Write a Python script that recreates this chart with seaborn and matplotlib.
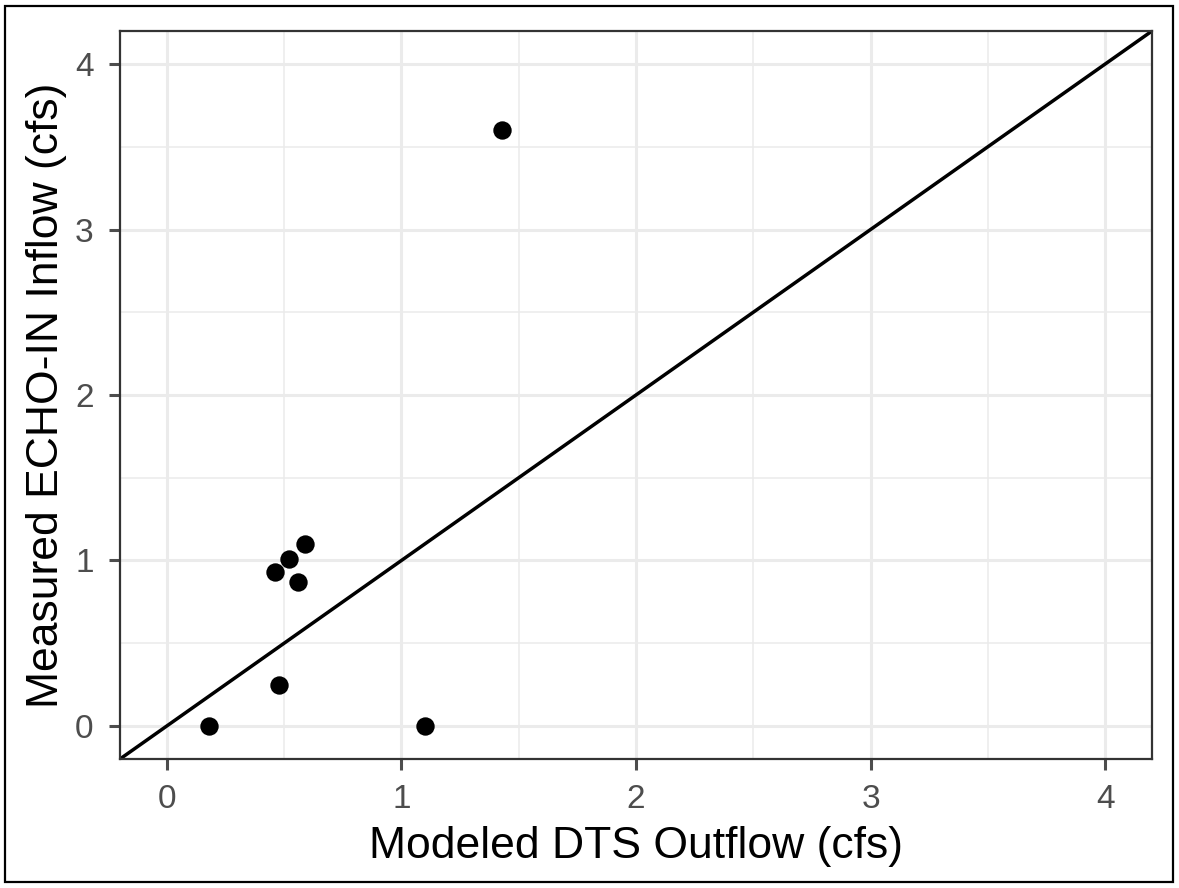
import matplotlib
matplotlib.use("Agg")
import matplotlib.pyplot as plt
import seaborn as sns
import pandas as pd
import numpy as np
from matplotlib.patches import Rectangle

modeled = [0.18, 1.10, 0.48, 0.46, 0.52, 0.56, 0.59, 1.43]
measured = [0.00, 0.00, 0.25, 0.93, 1.01, 0.87, 1.10, 3.60]
ticks = [0, 1, 2, 3, 4]

df = pd.DataFrame({"modeled": modeled, "measured": measured})

sns.set_theme(style="white")
plt.rcParams['font.family'] = ['Liberation Sans', 'DejaVu Sans']

fig = plt.figure(figsize=(11.79, 8.88), dpi=100)
ax = fig.add_axes([120/1179, 1 - 759/888, (1152-120)/1179, (759-31)/888])

lim = (-0.2, 4.2)
ax.plot(lim, lim, color="black", linewidth=2.5, zorder=2)
sns.scatterplot(data=df, x="modeled", y="measured", ax=ax, color="black",
                s=175, edgecolor="black", linewidth=0, zorder=3)

ax.set_xticks(ticks)
ax.set_yticks(ticks)
ax.set_xticks(np.arange(0.5, 4.0, 1.0), minor=True)
ax.set_yticks(np.arange(0.5, 4.0, 1.0), minor=True)
ax.set_xlim(lim)
ax.set_ylim(lim)
ax.grid(True, which="major", color="#EBEBEB", linewidth=2.2)
ax.grid(True, which="minor", color="#EBEBEB", linewidth=1.1)
ax.set_axisbelow(True)

ax.set_xlabel("Modeled DTS Outflow (cfs)", fontsize=32, color="black", labelpad=8)
ax.set_ylabel("Measured ECHO-IN Inflow (cfs)", fontsize=32, color="black", labelpad=6)
ax.tick_params(axis="both", which="major", labelsize=24, colors="#4D4D4D",
               length=8, width=2.2, direction="out",
               bottom=True, left=True)
ax.tick_params(axis="x", which="major", pad=10)
ax.tick_params(axis="y", which="major", pad=11)
ax.tick_params(axis="both", which="minor", length=0)
for sp in ax.spines.values():
    sp.set_color("#333333")
    sp.set_linewidth(1.6)

fig.patches.append(Rectangle((5/1179, 6/888), (1173-5)/1179, (882-6)/888,
                             transform=fig.transFigure, fill=False,
                             edgecolor="black", linewidth=1.6))

fig.savefig("out.png", dpi=100)
